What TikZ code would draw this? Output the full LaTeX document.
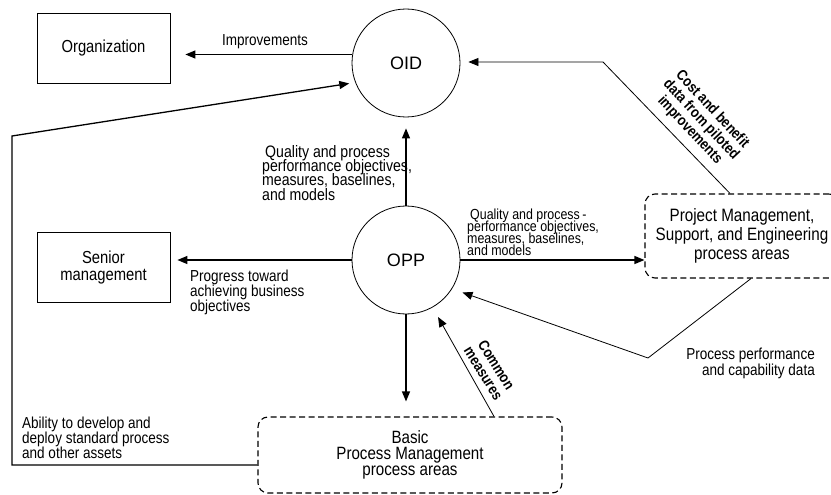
\documentclass[tikz,border=0pt]{standalone}
\usepackage{fontspec}
\setmainfont{Liberation Sans}[FakeStretch=0.85]
\newfontfamily\widefont{Liberation Sans}
\usetikzlibrary{arrows.meta,calc}
\begin{document}
\setlength{\lineskiplimit}{-100pt}
\begin{tikzpicture}[x=1pt,y=-1pt,
  box/.style={draw, line width=0.8pt, minimum width=133pt, minimum height=70pt, inner sep=0pt, font=\fontsize{17.4}{16.7}\selectfont, align=center},
  proc/.style={draw, circle, line width=0.8pt, minimum size=108pt, inner sep=0pt, font=\widefont\fontsize{18}{20}\selectfont},
  area/.style={draw, line width=1.1pt, dash pattern=on 6pt off 3.5pt, rounded corners=10pt, inner sep=0pt, align=center},
  lbl/.style={font=\fontsize{15.9}{15}\selectfont, inner sep=0pt},
  blbl/.style={font=\bfseries\fontsize{15}{15.3}\selectfont, align=center, inner sep=0pt},
  arr/.style={-{Triangle[length=10pt,width=8pt]}, line width=1.3pt},
  tarr/.style={-{Triangle[length=10pt,width=8pt]}, line width=0.8pt}]
\useasboundingbox (0,0) rectangle (831,495);
% nodes
\node[box] (org) at (103.5,48) {Organization};
\node[box] (sen) at (103.5,267.5) {Senior\\management};
\node[proc] (oid) at (406,63) {OID};
\node[proc] (opp) at (406,260) {OPP};
\node[area, minimum width=304pt, minimum height=76pt, font=\fontsize{17.8}{16}\selectfont] (basic) at (410,455) {Basic\\Process Management\\process areas};
\node[area, minimum width=194pt, minimum height=84pt, font=\fontsize{17.9}{19}\selectfont] (proj) at (742,236) {Project Management,\\Support, and Engineering\\process areas};
% labels
\node[lbl] (limp) at (265,42) {Improvements};
\node[lbl, align=left, anchor=north west, font=\fontsize{16.6}{14.3}\selectfont] (lq1) at (262,145) {\hspace*{3pt}Quality and process\\performance objectives,\\measures, baselines,\\and models};
\node[lbl, align=left, anchor=north west, font=\fontsize{14.6}{11.8}\selectfont] (lq2) at (467,209) {\hspace*{3pt}Quality and process\,-\\performance objectives,\\measures, baselines,\\and models};
\node[lbl, align=left, anchor=north west] (lprog) at (190,270) {Progress toward\\achieving business\\objectives};
\node[lbl, align=left, anchor=north west] (labil) at (22,417) {Ability to develop and\\deploy standard process\\and other assets};
\node[lbl, align=right, anchor=north east, font=\fontsize{15.9}{15.5}\selectfont] (lperf) at (815,348) {Process performance\\and capability data};
\node[blbl, rotate=-47] (lcost) at (701,120) {Cost and benefit\\data from piloted\\improvements};
\node[blbl, rotate=-58] (lcom) at (490,369) {Common\\measures};
% connectors
\draw[arr, shorten >=15pt] (oid.171.5) -- (oid.171.5 -| org.east);
\coordinate (lc) at (12,136);
\draw[arr, shorten >=6pt] ([yshift=-10pt]basic.west) -| (lc) -- (oid.201);
\draw[arr, shorten >=11pt] (opp) -- (oid);
\draw[arr, shorten >=7pt] (opp.west) -- (opp.west -| sen.east);
\draw[arr, shorten >=15pt] (opp.south) -- (opp.south |- basic.north);
\draw[arr] (opp.east) -- (opp.east -| proj.west);
\coordinate (cmS) at ([xshift=84pt]basic.north);
\draw[tarr, shorten >=11pt] (cmS) -- (opp);
\coordinate (ppS) at ([xshift=9pt]proj.south);
\coordinate (ppM) at (648,358);
\draw[tarr, shorten >=11pt] (ppS) -- (ppM) -- (opp.-32);
\coordinate (cbS) at ([xshift=-12pt]proj.north);
\coordinate (cbM) at (603,62);
\draw[tarr, shorten >=8pt] (cbS) -- (cbM) -- (cbM -| oid.east);
\end{tikzpicture}
\end{document}
